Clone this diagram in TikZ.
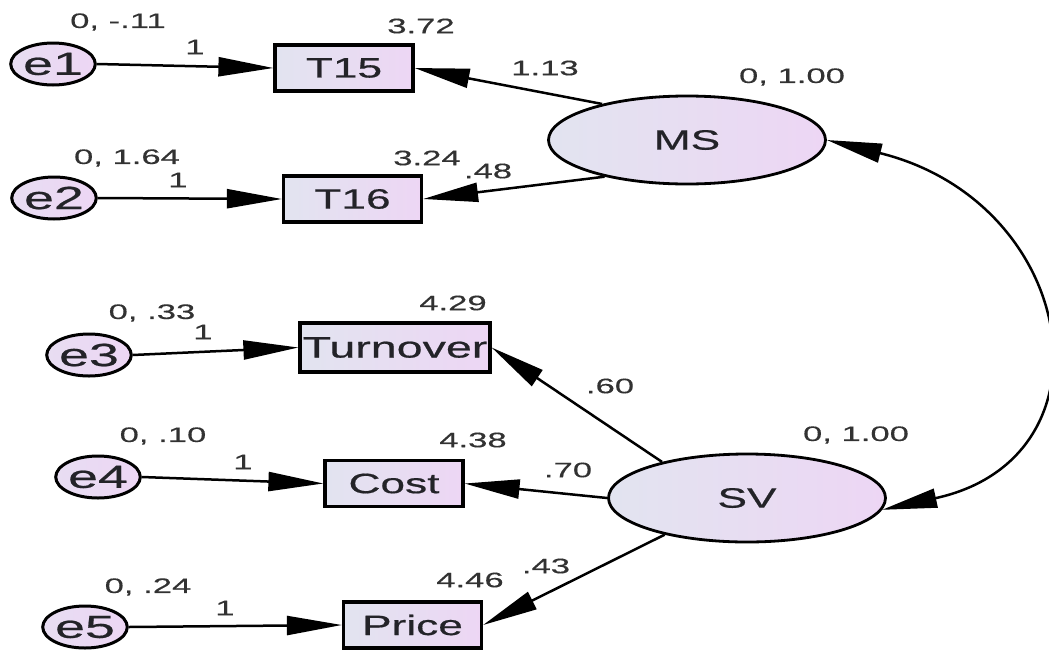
\documentclass[tikz,border=0pt]{standalone}
\usepackage{fontspec}
\usetikzlibrary{arrows.meta,shapes.geometric}
\newfontfamily\amosfont{Liberation Sans}[FakeStretch=1.58,FakeBold=0.6]
\newfontfamily\amoserr{Liberation Sans}[FakeStretch=1.68,FakeBold=0.6]
\newfontfamily\amoslab{Liberation Sans}[FakeStretch=1.65,FakeBold=0.3]
\definecolor{fillL}{RGB}{226,228,240}
\definecolor{fillR}{RGB}{237,214,244}
\definecolor{txt}{RGB}{35,35,40}
\definecolor{lbl}{RGB}{50,50,50}
\begin{document}
\begin{tikzpicture}[x=1pt,y=-1pt,
  obs/.style={draw=black, line width=3.2pt, rectangle, inner sep=0pt,
    minimum width=138pt, minimum height=46pt, left color=fillL, right color=fillR,
    text=txt, font=\amosfont\fontsize{28}{28}\selectfont},
  lat/.style={draw=black, line width=2.8pt, ellipse, inner sep=0pt,
    minimum width=277pt, minimum height=88pt, left color=fillL, right color=fillR,
    text=txt, font=\amosfont\fontsize{28}{28}\selectfont},
  err/.style={draw=black, line width=3pt, ellipse, inner sep=0pt,
    minimum width=78pt, minimum height=42pt, left color=fillL!50!fillR, right color=fillR,
    text=txt, font=\amoserr\fontsize{32}{32}\selectfont},
  lab/.style={text=lbl, inner sep=0pt, font=\amoslab\fontsize{21}{21}\selectfont},
  conn/.style={draw=black, line width=2.5pt, -{Triangle[length=55pt,width=19pt]}},
  bi/.style={draw=black, line width=2.5pt, {Triangle[length=55pt,width=19pt]}-{Triangle[length=55pt,width=19pt]}},
]
\useasboundingbox (0,0) rectangle (1049,651);

% error terms
\node[err] (e1) at (53,64) {e1};
\node[err] (e2) at (54,198) {e2};
\node[err] (e3) at (89,355) {e3};
\node[err] (e4) at (98,477) {e4};
\node[err] (e5) at (85,627) {e5};

% observed
\node[obs] (T15) at (344,68) {T15};
\node[obs] (T16) at (352.5,199) {T16};
\node[obs, minimum width=190pt, minimum height=49pt, font=\amosfont\fontsize{29.5}{29.5}\selectfont] (Turn) at (395,347.5) {Turnover};
\node[obs] (Cost) at (394,483.5) {Cost};
\node[obs] (Price) at (412.5,625) {Price};

% latent
\node[lat] (MS) at (687,140) {MS};
\node[lat] (SV) at (747,498) {SV};

% connectors
\draw[conn] (e1.east) -- (T15.west);
\draw[conn] (e2.east) -- (T16.west);
\draw[conn] (e3.east) -- (Turn.west);
\draw[conn] (e4.east) -- (Cost.west);
\draw[conn] (e5.east) -- (Price.west);
\draw[conn] (MS.157) -- (T15.east);
\draw[conn] (MS.204) -- (T16.east);
\draw[conn] (SV.157) -- (Turn.east);
\draw[conn] (SV.west) -- (Cost.east);
\draw[conn] (SV.204) -- (Price.east);
\draw[bi] (MS.east) .. controls (1078,202) and (1120,458) .. (SV.-5);

% labels
\node[lab] (l1) at (118,22) {0, -.11};
\node[lab] (l2) at (195,47) {1};
\node[lab] (l3) at (421,26) {3.72};
\node[lab] (l4) at (545,68) {1.13};
\node[lab] (l5) at (127,158) {0, 1.64};
\node[lab] (l6) at (178,180) {1};
\node[lab] (l7) at (427,158) {3.24};
\node[lab] (l8) at (488,171) {.48};
\node[lab] (l9) at (792,77) {0, 1.00};
\node[lab] (l10) at (152,313) {0, .33};
\node[lab] (l11) at (203,332) {1};
\node[lab] (l12) at (453,303) {4.29};
\node[lab] (l13) at (610,386) {.60};
\node[lab] (l14) at (163,436) {0, .10};
\node[lab] (l15) at (243,462) {1};
\node[lab] (l16) at (473,440) {4.38};
\node[lab] (l17) at (568,470) {.70};
\node[lab] (l18) at (856,435) {0, 1.00};
\node[lab] (l19) at (148,587) {0, .24};
\node[lab] (l20) at (225,608) {1};
\node[lab] (l21) at (470,580) {4.46};
\node[lab] (l22) at (546,566) {.43};
\end{tikzpicture}
\end{document}
